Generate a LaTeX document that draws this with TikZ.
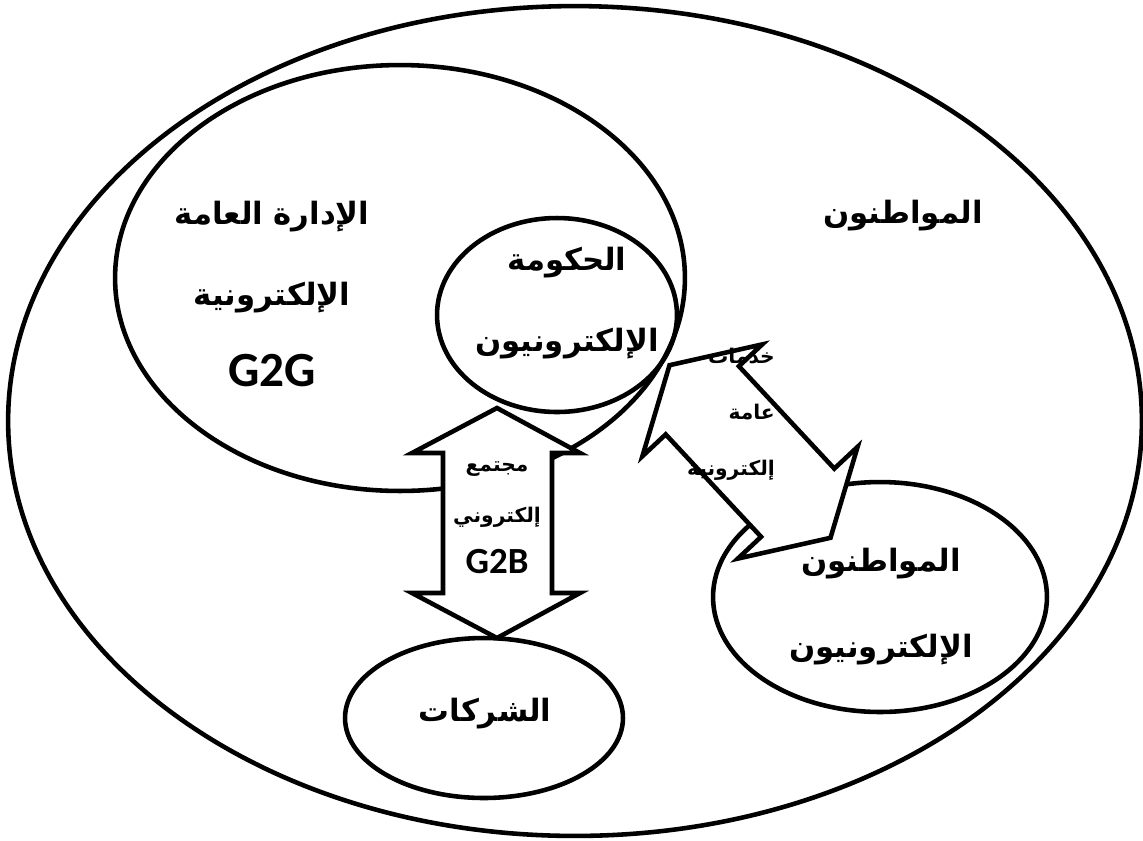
\documentclass[tikz,border=0pt]{standalone}
\usepackage{fontspec}
\newfontfamily\arabicfont[Script=Arabic]{DejaVu Sans}
\newfontfamily\gfont{Carlito}
\TeXXeTstate=1
\usetikzlibrary{shapes.geometric}

\begin{document}
\begin{tikzpicture}[x=0.02cm, y=-0.02cm,
    zone/.style={ellipse, draw, line width=2.6pt, inner sep=0pt},
    blockarrow/.style={draw, fill=white, line width=2.6pt, line join=miter},
    bigar/.style={font=\arabicfont\bfseries\fontsize{17.5}{46}\selectfont, align=center},
    smallar/.style={font=\arabicfont\bfseries\fontsize{11.5}{30}\selectfont, align=right}
  ]
  \useasboundingbox (0,0) rectangle (1143,840);

  % Zones
  \node[zone, minimum width=22.68cm, minimum height=16.6cm] (citizens) at (575,421) {};
  \node[zone, minimum width=11.4cm, minimum height=8.52cm] (admin) at (400,278) {};
  \node[zone, minimum width=4.8cm, minimum height=3.88cm] (gov) at (557,315) {};
  \node[zone, minimum width=5.56cm, minimum height=3.2cm] (firms) at (484,718) {};
  \node[zone, minimum width=6.68cm, minimum height=4.6cm] (ecit) at (880,597) {};

  % Block arrows (G2B and services)
  \draw[blockarrow] (497,408) -- (580,453) -- (552,453) -- (552,593) -- (580,593)
    -- (497,638) -- (412,593) -- (443,593) -- (443,453) -- (412,453) -- cycle;
  \draw[blockarrow] (669.5,365.2) -- (762.2,344.4) -- (738.9,366.2) -- (834.3,468.6)
    -- (857.6,446.8) -- (830.5,537.8) -- (737.8,558.6) -- (761.1,536.8)
    -- (665.7,434.4) -- (642.4,456.2) -- cycle;

  % Labels
  \node[bigar] (citizenslbl) at (903,216) {\beginR المواطنون\endR};
  \node[bigar] (adminlbl) at (272,294) {\beginR الإدارة العامة\endR\\
    \beginR الإلكترونية\endR\\
    {\gfont\bfseries\fontsize{28}{46}\selectfont G2G}};
  \node[bigar] (govlbl) at (567,303) {\beginR الحكومة\endR\\ \beginR الإلكترونيون\endR};
  \node[bigar, font=\arabicfont\bfseries\fontsize{17.5}{49}\selectfont]
    (ecitlbl) at (881,607) {\beginR المواطنون\endR\\ \beginR الإلكترونيون\endR};
  \node[bigar] (firmslbl) at (485,714) {\beginR الشركات\endR};
  \node[smallar, align=center, font=\arabicfont\bfseries\fontsize{11.5}{29}\selectfont]
    (g2blbl) at (497,518) {\beginR مجتمع\endR\\
    \beginR إلكتروني\endR\\
    {\gfont\bfseries\fontsize{21}{29}\selectfont G2B}};
  \node[smallar, font=\arabicfont\bfseries\fontsize{11.5}{32}\selectfont, anchor=east]
    (servlbl) at (781,414) {\beginR خدمات\endR\\
    \beginR عامة\endR\\ \beginR إلكترونية\endR};
\end{tikzpicture}
\end{document}
